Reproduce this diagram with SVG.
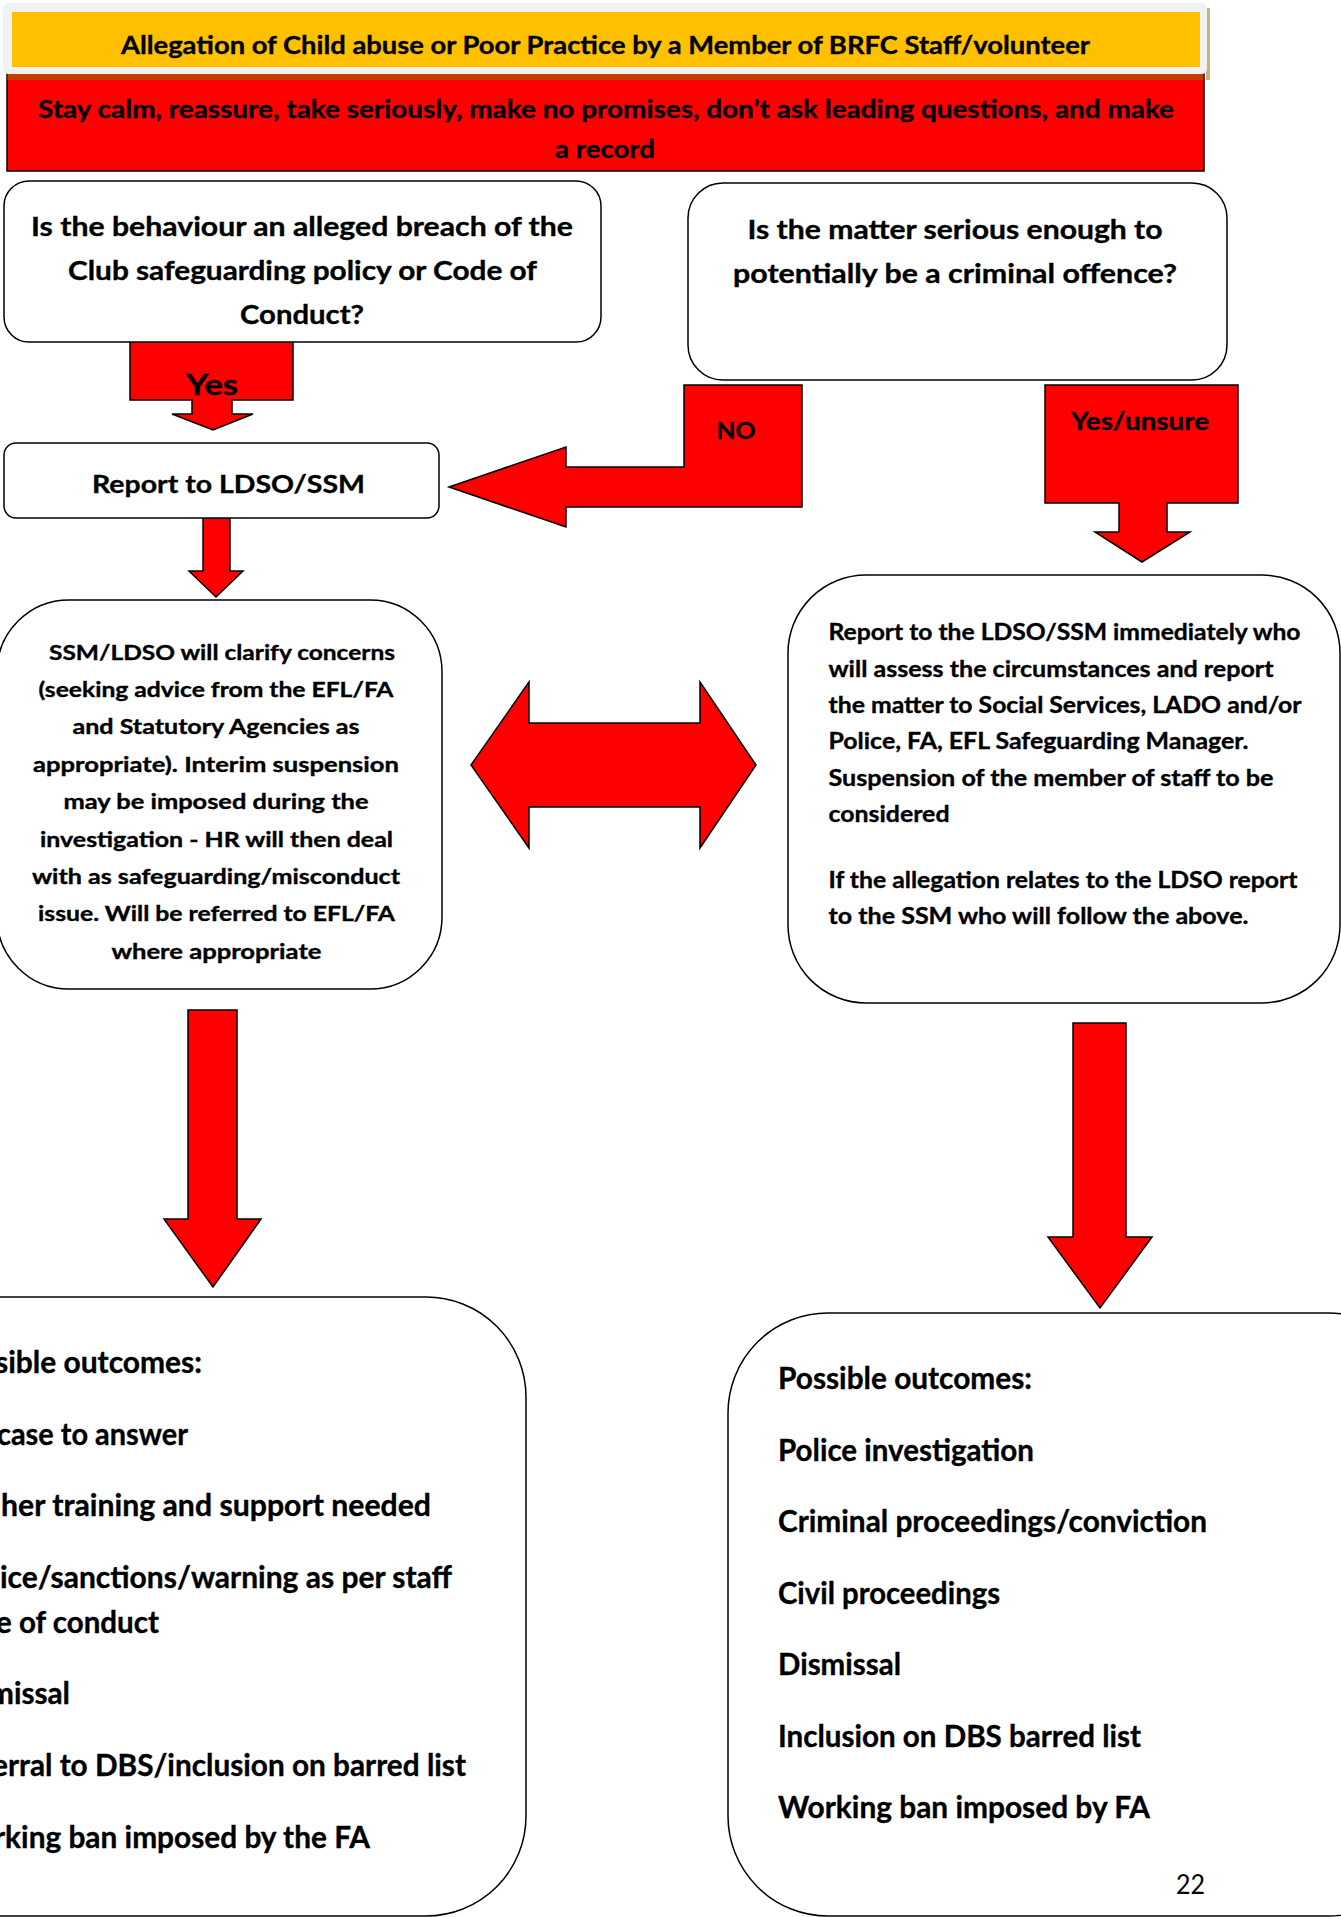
<svg xmlns="http://www.w3.org/2000/svg" width="1341" height="1917" viewBox="0 0 1341 1917">
<style>
.t{font-family:Lato,'Liberation Sans',sans-serif;font-weight:700;fill:#000;stroke:#000;stroke-width:0.35}
.m{text-anchor:middle}
.box{fill:#fff;stroke:#000;stroke-width:1.5}
.arr{fill:#ff0000;stroke:#000;stroke-width:1.5;stroke-linejoin:miter}
</style>
<rect width="1341" height="1917" fill="#fff"/>
<g id="connectors">
<path class="arr" d="M130,341 H293 V400 H232 V414 H253 L213,430 L172,414 H192 V400 H130 Z"/>
<path class="arr" d="M203,518 H230 V571 H243 L216,597 L189,571 H203 Z"/>
<path class="arr" d="M684,385 H802 V507 H566 V527 L449,487 L566,447 V467 H684 Z"/>
<path class="arr" d="M1045,385 H1238 V503 H1167 V532 H1190 L1142,562 L1095,532 H1119 V503 H1045 Z"/>
<path class="arr" d="M471,765 L529,682 V723 H700 V682 L756,765 L700,848 V807 H529 V848 Z"/>
<path class="arr" d="M188,1010 H237 V1219 H261 L213,1287 L164,1219 H188 Z"/>
<path class="arr" d="M1073,1023 H1126 V1237 H1152 L1100,1308 L1048,1237 H1073 Z"/>
<text class="t m" x="212" y="395" font-size="28" textLength="52" lengthAdjust="spacingAndGlyphs">Yes</text>
<text class="t m" x="736" y="439" font-size="23.5" textLength="39" lengthAdjust="spacingAndGlyphs">NO</text>
<text class="t m" x="1140" y="430" font-size="24.5" textLength="138" lengthAdjust="spacingAndGlyphs">Yes/unsure</text>
</g>
<g id="header">
<rect x="7" y="74" width="1197" height="97" fill="#ff0000" stroke="#000" stroke-width="1.5"/>
<rect x="7.5" y="74" width="1196" height="6" fill="#c43c00"/>
<rect x="1206" y="8" width="4" height="72" fill="#c8b27e"/>
<rect x="3" y="3" width="1204" height="71" rx="5" fill="#f2f2f2"/>
<rect x="12" y="12" width="1188" height="55" fill="#ffc000"/>
<text class="t m" x="605.5" y="54" font-size="25" textLength="969" lengthAdjust="spacingAndGlyphs">Allegation of Child abuse or Poor Practice by a Member of BRFC Staff/volunteer</text>
<text class="t m" x="606" y="118" font-size="25" textLength="1136" lengthAdjust="spacingAndGlyphs">Stay calm, reassure, take seriously, make no promises, don’t ask leading questions, and make</text>
<text class="t m" x="605" y="158" font-size="25" textLength="100" lengthAdjust="spacingAndGlyphs">a record</text>
</g>
<g id="q-breach">
<rect class="box" x="4" y="181" width="597" height="161" rx="25"/>
<text class="t m" x="302" y="236" font-size="26.5" textLength="542" lengthAdjust="spacingAndGlyphs">Is the behaviour an alleged breach of the</text>
<text class="t m" x="302.5" y="280" font-size="26.5" textLength="469" lengthAdjust="spacingAndGlyphs">Club safeguarding policy or Code of</text>
<text class="t m" x="302" y="324" font-size="26.5" textLength="124" lengthAdjust="spacingAndGlyphs">Conduct?</text>
</g>
<g id="q-criminal">
<rect class="box" x="688" y="183" width="539" height="197" rx="35"/>
<text class="t m" x="955" y="239" font-size="26.5" textLength="415" lengthAdjust="spacingAndGlyphs">Is the matter serious enough to</text>
<text class="t m" x="955" y="283" font-size="26.5" textLength="444" lengthAdjust="spacingAndGlyphs">potentially be a criminal offence?</text>
</g>
<g id="report-ldso">
<rect class="box" x="4" y="443" width="435" height="75" rx="12"/>
<text class="t m" x="228.5" y="493" font-size="25.5" textLength="273" lengthAdjust="spacingAndGlyphs">Report to LDSO/SSM</text>
</g>
<g id="clarify">
<rect class="box" x="-3" y="600" width="445" height="389" rx="72"/>
<g font-size="20.5">
<text class="t" x="49" y="660" textLength="346" lengthAdjust="spacingAndGlyphs">SSM/LDSO will clarify concerns</text>
<text class="t" x="38.5" y="697" textLength="355" lengthAdjust="spacingAndGlyphs">(seeking advice from the EFL/FA</text>
<text class="t" x="72.5" y="734" textLength="287" lengthAdjust="spacingAndGlyphs">and Statutory Agencies as</text>
<text class="t" x="33" y="772" textLength="366" lengthAdjust="spacingAndGlyphs">appropriate). Interim suspension</text>
<text class="t" x="63.5" y="809" textLength="305" lengthAdjust="spacingAndGlyphs">may be imposed during the</text>
<text class="t" x="40" y="847" textLength="353" lengthAdjust="spacingAndGlyphs">investigation - HR will then deal</text>
<text class="t" x="32" y="884" textLength="368" lengthAdjust="spacingAndGlyphs">with as safeguarding/misconduct</text>
<text class="t" x="38" y="921" textLength="357" lengthAdjust="spacingAndGlyphs">issue. Will be referred to EFL/FA</text>
<text class="t" x="111.5" y="959" textLength="210" lengthAdjust="spacingAndGlyphs">where appropriate</text>
</g>
</g>
<g id="report-immediately">
<rect class="box" x="788" y="575" width="552" height="428" rx="78"/>
<g font-size="23">
<text class="t" x="828.5" y="640" textLength="472" lengthAdjust="spacingAndGlyphs">Report to the LDSO/SSM immediately who</text>
<text class="t" x="828.5" y="677" textLength="445" lengthAdjust="spacingAndGlyphs">will assess the circumstances and report</text>
<text class="t" x="828.5" y="713" textLength="473" lengthAdjust="spacingAndGlyphs">the matter to Social Services, LADO and/or</text>
<text class="t" x="828.5" y="749" textLength="420" lengthAdjust="spacingAndGlyphs">Police, FA, EFL Safeguarding Manager.</text>
<text class="t" x="828.5" y="786" textLength="445" lengthAdjust="spacingAndGlyphs">Suspension of the member of staff to be</text>
<text class="t" x="828.5" y="822" textLength="121" lengthAdjust="spacingAndGlyphs">considered</text>
<text class="t" x="828.5" y="888" textLength="469" lengthAdjust="spacingAndGlyphs">If the allegation relates to the LDSO report</text>
<text class="t" x="828.5" y="924" textLength="420" lengthAdjust="spacingAndGlyphs">to the SSM who will follow the above.</text>
</g>
</g>
<g id="outcomes-left">
<rect class="box" x="-102" y="1297" width="628" height="619" rx="100"/>
<g font-size="30">
<text class="t" x="-5" y="1373" textLength="207" lengthAdjust="spacingAndGlyphs">sible outcomes:</text>
<text class="t" x="-3" y="1445" textLength="191" lengthAdjust="spacingAndGlyphs">case to answer</text>
<text class="t" x="1" y="1516" textLength="430" lengthAdjust="spacingAndGlyphs">her training and support needed</text>
<text class="t" x="0" y="1588" textLength="452" lengthAdjust="spacingAndGlyphs">ice/sanctions/warning as per staff</text>
<text class="t" x="-4" y="1633" textLength="163" lengthAdjust="spacingAndGlyphs">e of conduct</text>
<text class="t" x="-11" y="1704" textLength="81" lengthAdjust="spacingAndGlyphs">missal</text>
<text class="t" x="-8" y="1776" textLength="474" lengthAdjust="spacingAndGlyphs">erral to DBS/inclusion on barred list</text>
<text class="t" x="-6" y="1848" textLength="376" lengthAdjust="spacingAndGlyphs">rking ban imposed by the FA</text>
</g>
</g>
<g id="outcomes-right">
<rect class="box" x="728" y="1313" width="700" height="603" rx="100"/>
<g font-size="30">
<text class="t" x="778" y="1389" textLength="254" lengthAdjust="spacingAndGlyphs">Possible outcomes:</text>
<text class="t" x="778" y="1461" textLength="256" lengthAdjust="spacingAndGlyphs">Police investigation</text>
<text class="t" x="778" y="1532" textLength="429" lengthAdjust="spacingAndGlyphs">Criminal proceedings/conviction</text>
<text class="t" x="778" y="1604" textLength="222" lengthAdjust="spacingAndGlyphs">Civil proceedings</text>
<text class="t" x="778" y="1675" textLength="123" lengthAdjust="spacingAndGlyphs">Dismissal</text>
<text class="t" x="778" y="1747" textLength="363" lengthAdjust="spacingAndGlyphs">Inclusion on DBS barred list</text>
<text class="t" x="778" y="1818" textLength="372" lengthAdjust="spacingAndGlyphs">Working ban imposed by FA</text>
</g>
<text x="1190.5" y="1894" font-family="Lato,'Liberation Sans',sans-serif" font-size="26" text-anchor="middle" textLength="29" lengthAdjust="spacingAndGlyphs">22</text>
</g>
</svg>
